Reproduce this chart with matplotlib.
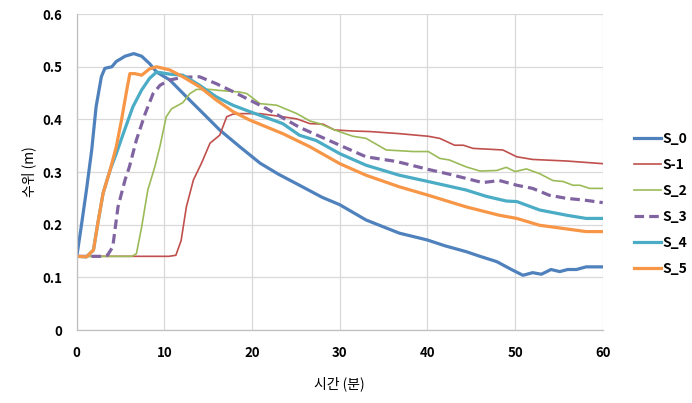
"""
Water level by time for six scenarios
"""

import matplotlib
matplotlib.use('Agg')
import matplotlib.pyplot as plt

plt.rcParams['font.family'] = ['Noto Sans CJK KR', 'DejaVu Sans']

# time (min) and water level (m) per series
t_s0 = [0, 0.5, 1.1, 1.7, 2.2, 2.8, 3.2, 4.0, 4.5, 5.5, 6.5, 7.4, 8.3, 9.1, 10.6,
        12.5, 14.8, 16.3, 18.6, 20.9, 23, 25.4, 28, 30, 33, 36.8, 40, 42, 44.4,
        46, 47.9, 49.7, 50.9, 52, 53, 54.1, 55.1, 56, 57, 58.1, 60]
v_s0 = [0.14, 0.196, 0.266, 0.342, 0.424, 0.481, 0.497, 0.50, 0.51, 0.52, 0.525,
        0.52, 0.506, 0.49, 0.475, 0.443, 0.405, 0.38, 0.348, 0.317, 0.296, 0.275,
        0.252, 0.238, 0.209, 0.184, 0.171, 0.16, 0.149, 0.14, 0.13, 0.114, 0.104,
        0.109, 0.106, 0.115, 0.111, 0.115, 0.115, 0.12, 0.12]

t_s1 = [0, 10.5, 11.3, 11.9, 12.5, 13.3, 14.2, 15.2, 16.3, 17.1, 17.8, 18.5, 20.9,
        23.5, 25.1, 26.6, 28.1, 29.4, 31.5, 33.4, 36.8, 40.1, 41.4, 43.1, 44.1,
        45.2, 48.6, 50.2, 52, 55.9, 60]
v_s1 = [0.14, 0.14, 0.142, 0.17, 0.234, 0.285, 0.316, 0.355, 0.37, 0.405, 0.41,
        0.411, 0.411, 0.405, 0.401, 0.392, 0.391, 0.38, 0.378, 0.377, 0.373, 0.368,
        0.364, 0.351, 0.351, 0.345, 0.342, 0.329, 0.324, 0.321, 0.316]

t_s2 = [0, 6.3, 6.8, 7.4, 8.1, 8.9, 9.5, 10.2, 10.8, 12.1, 12.9, 13.65, 15.2, 16.3,
        18.6, 19.4, 20.9, 22.8, 25.1, 26.6, 27.7, 29.4, 31.5, 33, 35.3, 38.4, 40.1,
        41.4, 42.5, 44.4, 46, 47.9, 49, 50, 51.3, 52.8, 54.3, 55.5, 56.6, 57.4,
        58.5, 60]
v_s2 = [0.14, 0.14, 0.145, 0.196, 0.266, 0.31, 0.35, 0.405, 0.42, 0.432, 0.449,
        0.457, 0.457, 0.455, 0.452, 0.449, 0.43, 0.427, 0.411, 0.397, 0.392, 0.38,
        0.368, 0.364, 0.342, 0.339, 0.339, 0.326, 0.323, 0.31, 0.302, 0.303, 0.309,
        0.301, 0.306, 0.297, 0.284, 0.282, 0.275, 0.275, 0.269, 0.269]

t_s3 = [0, 3.0, 3.5, 4.1, 4.7, 5.5, 6.0, 6.8, 7.8, 8.7, 9.5, 10.6, 12.1, 14.0, 15.9,
        17.8, 19.7, 21.6, 23.5, 25.4, 27.7, 30, 33, 36.5, 40.1, 42.5, 46.3, 48.2,
        50.2, 52, 53.9, 55.9, 57.8, 60]
v_s3 = [0.14, 0.14, 0.142, 0.158, 0.234, 0.285, 0.31, 0.361, 0.411, 0.449, 0.465,
        0.475, 0.48, 0.481, 0.468, 0.453, 0.437, 0.421, 0.403, 0.385, 0.368, 0.351,
        0.329, 0.32, 0.305, 0.296, 0.28, 0.284, 0.275, 0.269, 0.256, 0.25, 0.247,
        0.242]

t_s4 = [0, 1.1, 1.9, 2.4, 3.0, 3.8, 4.5, 5.3, 6.4, 7.4, 8.3, 9.1, 10.6, 12.1, 14.0,
        15.9, 17.8, 19.7, 23.5, 25.4, 27.3, 30, 33, 36.8, 40.1, 44.4, 46.7, 49,
        50.2, 52.8, 55.9, 58.1, 60]
v_s4 = [0.14, 0.139, 0.152, 0.203, 0.26, 0.304, 0.335, 0.373, 0.424, 0.456, 0.478,
        0.49, 0.486, 0.484, 0.465, 0.443, 0.427, 0.415, 0.392, 0.37, 0.36, 0.335,
        0.313, 0.294, 0.282, 0.266, 0.254, 0.245, 0.244, 0.228, 0.218, 0.212, 0.212]

t_s5 = [0, 1.1, 1.9, 2.4, 3.0, 3.8, 4.5, 5.1, 5.7, 6.05, 6.6, 7.4, 8.3, 9.1, 10.6,
        12.1, 14.0, 15.9, 17.8, 19.7, 23.5, 26.6, 30, 33, 36.8, 40.1, 44.4, 48.2,
        50.2, 52.8, 55.9, 58.1, 60]
v_s5 = [0.14, 0.139, 0.152, 0.203, 0.26, 0.304, 0.348, 0.399, 0.456, 0.487, 0.487,
        0.484, 0.496, 0.5, 0.494, 0.481, 0.462, 0.437, 0.415, 0.399, 0.373, 0.348,
        0.316, 0.294, 0.272, 0.256, 0.234, 0.218, 0.212, 0.199, 0.192, 0.187, 0.187]

x_ticks = [0, 10, 20, 30, 40, 50, 60]
y_ticks = [0, 0.1, 0.2, 0.3, 0.4, 0.5, 0.6]
y_tick_labels = ['0', '0.1', '0.2', '0.3', '0.4', '0.5', '0.6']


def main():
    fig = plt.figure(figsize=(6.92, 4.03), dpi=100)
    ax = fig.add_axes([0.111, 0.181, 0.76, 0.784])

    ax.plot(t_s0, v_s0, color='#4F81BD', lw=2.3, label='S_0')
    ax.plot(t_s1, v_s1, color='#C0504D', lw=1.2, label='S-1')
    ax.plot(t_s2, v_s2, color='#9BBB59', lw=1.2, label='S_2')
    ax.plot(t_s3, v_s3, color='#8064A2', lw=2.3, dashes=(3.0, 1.6), label='S_3')
    ax.plot(t_s4, v_s4, color='#4BACC6', lw=2.3, label='S_4')
    ax.plot(t_s5, v_s5, color='#F79646', lw=2.3, label='S_5')

    ax.set_xlim(0, 60)
    ax.set_ylim(0, 0.6)
    ax.set_xticks(x_ticks)
    ax.set_yticks(y_ticks)
    ax.set_yticklabels(y_tick_labels)
    ax.tick_params(length=0, labelsize=9.5)
    ax.tick_params(axis='x', pad=11.5)
    ax.tick_params(axis='y', pad=10.5)
    for lab in ax.get_xticklabels() + ax.get_yticklabels():
        lab.set_fontweight('bold')

    ax.grid(True, color='#d9d9d9', lw=0.9)
    ax.set_axisbelow(True)
    for side in ['top', 'right']:
        ax.spines[side].set_visible(False)
    for side in ['left', 'bottom']:
        ax.spines[side].set_color('#bfbfbf')
        ax.spines[side].set_linewidth(0.9)

    ax.set_xlabel('시간 (분)', fontsize=10, labelpad=12)
    ax.set_ylabel('수위 (m)', fontsize=10, labelpad=4)

    ax.legend(loc='center left', bbox_to_anchor=(1.035, 0.40), frameon=False,
              handlelength=2.0, handletextpad=0.1, labelspacing=0.86,
              prop={'size': 10, 'weight': 'bold'})

    fig.savefig('out.png', dpi=100)


if __name__ == '__main__':
    main()
